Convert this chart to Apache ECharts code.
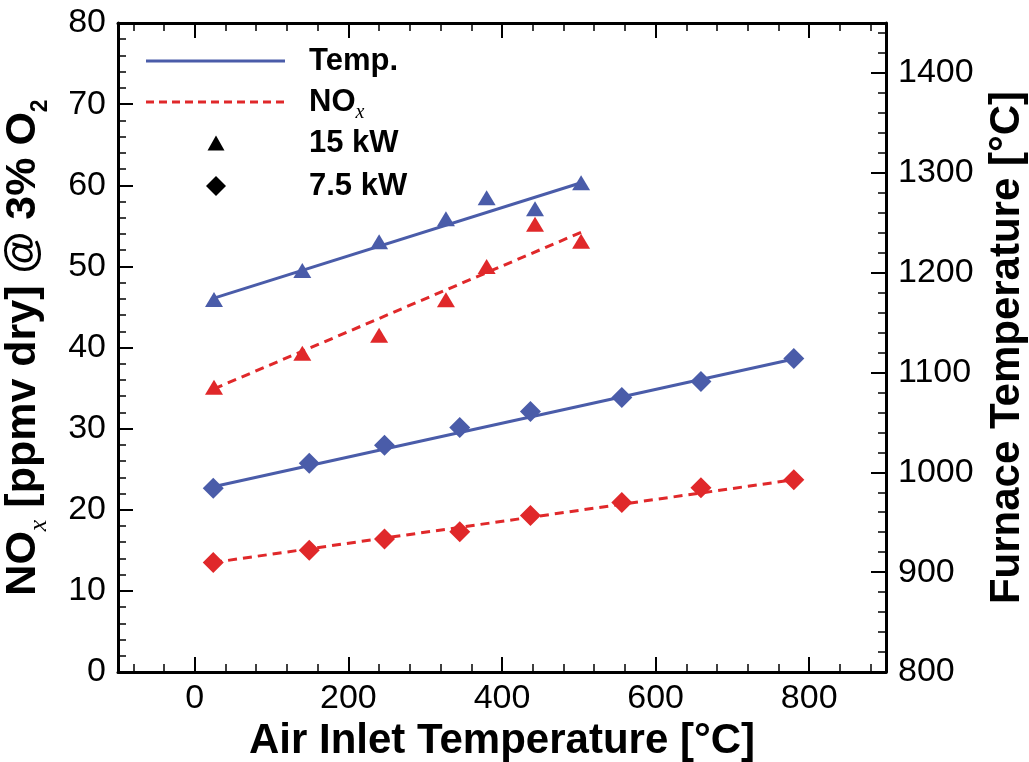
<!DOCTYPE html>
<html>
<head>
<meta charset="utf-8">
<script src="https://cdn.jsdelivr.net/npm/echarts@6/dist/echarts.min.js"></script>
<style>
  html, body { margin: 0; padding: 0; background: #fff; }
  #chart { width: 1029px; height: 762px; }
</style>
</head>
<body>
<div id="chart"></div>
<script>
// 15 kW runs
let airT15 = [25, 140, 240, 327, 380, 443, 503]
let furnT15 = [1173, 1202, 1231, 1254, 1275, 1264, 1290]
let nox15 = [35.1, 39.3, 41.5, 45.9, 50.0, 55.2, 53.1]
// 7.5 kW runs
let airT75 = [24, 149, 247, 345, 437, 556, 659, 780]
let furnT75 = [984, 1009, 1027, 1045, 1061, 1075, 1091, 1114]
let nox75 = [13.5, 15.0, 16.4, 17.3, 19.3, 20.9, 22.7, 23.7]
// linear fits, [air inlet T, value] at both ends
let fitTemp15 = [[25, 1174.5], [503, 1290]]
let fitNox15 = [[25, 34.9], [503, 54.2]]
let fitTemp75 = [[24, 985.5], [780, 1113.5]]
let fitNox75 = [[24, 13.5], [780, 23.7]]
// x axis tick labels
let xLabels = [0, 200, 400, 600, 800]

const BLUE = '#4a5ca9'
const RED = '#e0282a'
const FONT = "'Liberation Sans', Arial, Helvetica, sans-serif"

const zip = (xs, ys) => xs.map((x, i) => [x, ys[i]])

// minor ticks on x every 40
let xMinor = []
for (let v = -80; v < 900; v += 40) {
  if (v % 200 !== 0) xMinor.push(v)
}

function xAxisDef (position, showLabel, values, len, width) {
  return {
    type: 'value',
    position: position,
    min: -100,
    max: 900,
    splitLine: { show: false },
    axisLine: { show: showLabel !== null, onZero: false, lineStyle: { color: '#000', width: 3 } },
    axisTick: { show: true, inside: true, length: len, customValues: values, lineStyle: { color: '#000', width: width } },
    axisLabel: showLabel ? {
      show: true, customValues: xLabels, fontSize: 34, color: '#000', fontFamily: FONT, margin: 10
    } : { show: false }
  }
}

let chart = echarts.init(document.getElementById('chart'))
chart.setOption({
  animation: false,
  grid: { left: 118, right: 143, top: 23, bottom: 90, containLabel: false, outerBoundsMode: 'none' },
  xAxis: [
    Object.assign(xAxisDef('bottom', true, xLabels, 15, 2), {
      name: 'Air Inlet Temperature [°C]',
      nameLocation: 'middle',
      nameGap: 47,
      nameTextStyle: { fontSize: 42, fontWeight: 'bold', color: '#000', fontFamily: FONT }
    }),
    xAxisDef('bottom', null, xMinor, 8, 1.5),
    xAxisDef('top', false, xLabels, 15, 2),
    xAxisDef('top', null, xMinor, 8, 1.5)
  ],
  yAxis: [
    {
      type: 'value',
      position: 'left',
      min: 0,
      max: 80,
      interval: 10,
      splitLine: { show: false },
      axisLine: { show: true, onZero: false, lineStyle: { color: '#000', width: 3 } },
      axisTick: { inside: true, length: 15, lineStyle: { color: '#000', width: 2 } },
      minorTick: { show: true, splitNumber: 5, length: 8, lineStyle: { color: '#000', width: 1.5 } },
      axisLabel: { fontSize: 34, color: '#000', fontFamily: FONT, margin: 12 },
      name: '{t|NO}{s|x}{t| [ppmv dry] @ 3% O}{n|2}',
      nameLocation: 'middle',
      nameRotate: 90,
      nameGap: 66,
      nameTextStyle: {
        color: '#000',
        rich: {
          t: { fontSize: 43, fontWeight: 'bold', fontFamily: FONT, color: '#000', lineHeight: 58 },
          s: { fontSize: 26, fontStyle: 'italic', fontFamily: "'Liberation Serif', 'DejaVu Serif', serif", color: '#000', verticalAlign: 'bottom', lineHeight: 22 },
          n: { fontSize: 23, fontWeight: 'bold', fontFamily: FONT, color: '#000', verticalAlign: 'bottom', lineHeight: 20 }
        }
      }
    },
    {
      type: 'value',
      position: 'right',
      min: 800,
      max: 1450,
      interval: 100,
      splitLine: { show: false },
      axisLine: { show: true, onZero: false, lineStyle: { color: '#000', width: 3 } },
      axisTick: { inside: true, length: 15, lineStyle: { color: '#000', width: 2 } },
      minorTick: { show: true, splitNumber: 5, length: 8, lineStyle: { color: '#000', width: 1.5 } },
      axisLabel: {
        fontSize: 34, color: '#000', fontFamily: FONT, margin: 12,
        formatter: function (v) { return v % 100 === 0 ? String(v) : '' }
      },
      name: 'Furnace Temperature [°C]',
      nameLocation: 'middle',
      nameRotate: 90,
      nameGap: 100,
      nameTextStyle: { fontSize: 42, fontWeight: 'bold', color: '#000', fontFamily: FONT }
    }
  ],
  graphic: [
    { type: 'line', shape: { x1: 146, y1: 61, x2: 285, y2: 61 }, style: { stroke: BLUE, lineWidth: 3 } },
    { type: 'line', shape: { x1: 146, y1: 102, x2: 285, y2: 102 }, style: { stroke: RED, lineWidth: 3, lineDash: [8, 5] } },
    { type: 'polygon', shape: { points: [[207.5, 150.5], [224.5, 150.5], [216, 135.5]] }, style: { fill: '#000' } },
    { type: 'polygon', shape: { points: [[216, 176], [226, 186], [216, 196], [206, 186]] }, style: { fill: '#000' } },
    { type: 'text', x: 309, y: 61, style: { text: 'Temp.', fontSize: 31, fontWeight: 'bold', fontFamily: FONT, fill: '#000', verticalAlign: 'middle' } },
    {
      type: 'text', x: 309, y: 102,
      style: {
        text: '{a|NO}{b|x}', verticalAlign: 'middle',
        rich: {
          a: { fontSize: 31, fontWeight: 'bold', fontFamily: FONT, fill: '#000', lineHeight: 42 },
          b: { fontSize: 20, fontStyle: 'italic', fontFamily: "'Liberation Serif', serif", fill: '#000', verticalAlign: 'bottom', lineHeight: 16 }
        }
      }
    },
    { type: 'text', x: 309, y: 143, style: { text: '15 kW', fontSize: 31, fontWeight: 'bold', fontFamily: FONT, fill: '#000', verticalAlign: 'middle' } },
    { type: 'text', x: 309, y: 186, style: { text: '7.5 kW', fontSize: 31, fontWeight: 'bold', fontFamily: FONT, fill: '#000', verticalAlign: 'middle' } }
  ],
  series: [
    {
      name: 'Temp. fit 15 kW', type: 'line', xAxisIndex: 0, yAxisIndex: 1,
      data: fitTemp15, symbol: 'none', lineStyle: { color: BLUE, width: 3 }, z: 2
    },
    {
      name: 'NOx fit 15 kW', type: 'line', xAxisIndex: 0, yAxisIndex: 0,
      data: fitNox15, symbol: 'none', lineStyle: { color: RED, width: 3, type: [9, 6] }, z: 2
    },
    {
      name: 'Temp. fit 7.5 kW', type: 'line', xAxisIndex: 0, yAxisIndex: 1,
      data: fitTemp75, symbol: 'none', lineStyle: { color: BLUE, width: 3 }, z: 2
    },
    {
      name: 'NOx fit 7.5 kW', type: 'line', xAxisIndex: 0, yAxisIndex: 0,
      data: fitNox75, symbol: 'none', lineStyle: { color: RED, width: 3, type: [9, 6] }, z: 2
    },
    {
      name: 'Temp. 15 kW', type: 'scatter', xAxisIndex: 0, yAxisIndex: 1,
      data: zip(airT15, furnT15), symbol: 'triangle', symbolSize: [18, 15], itemStyle: { color: BLUE, opacity: 1 }, z: 3
    },
    {
      name: 'NOx 15 kW', type: 'scatter', xAxisIndex: 0, yAxisIndex: 0,
      data: zip(airT15, nox15), symbol: 'triangle', symbolSize: [18, 15], itemStyle: { color: RED, opacity: 1 }, z: 3
    },
    {
      name: 'Temp. 7.5 kW', type: 'scatter', xAxisIndex: 0, yAxisIndex: 1,
      data: zip(airT75, furnT75), symbol: 'diamond', symbolSize: 21, itemStyle: { color: BLUE, opacity: 1 }, z: 3
    },
    {
      name: 'NOx 7.5 kW', type: 'scatter', xAxisIndex: 0, yAxisIndex: 0,
      data: zip(airT75, nox75), symbol: 'diamond', symbolSize: 21, itemStyle: { color: RED, opacity: 1 }, z: 3
    }
  ]
})
</script>
</body>
</html>
